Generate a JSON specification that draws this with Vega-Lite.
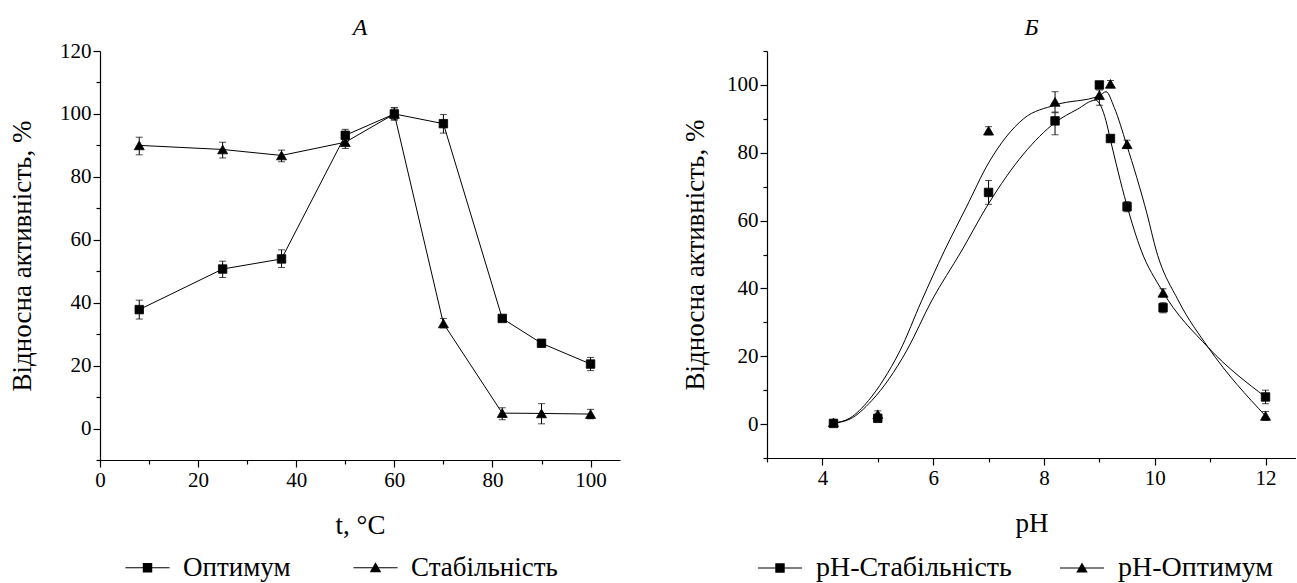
{
  "$schema": "https://vega.github.io/schema/vega-lite/v6.json",
  "background": "white",
  "padding": {"left": 8, "top": 16, "right": 0, "bottom": 0},
  "spacing": 61,
  "config": {
    "font": "Liberation Serif",
    "view": {"stroke": null},
    "axis": {
      "domainColor": "black", "tickColor": "black", "labelColor": "black", "titleColor": "black",
      "grid": false, "labelFont": "Liberation Serif", "titleFont": "Liberation Serif",
      "labelFontSize": 21, "titleFontSize": 27, "titleFontWeight": "normal",
      "domainWidth": 1.2, "tickWidth": 1.2, "labelOverlap": false, "labelFlush": false, "labelPadding": 2
    },
    "legend": {"labelFont": "Liberation Serif", "labelFontSize": 28, "labelColor": "black", "padding": 0, "labelLimit": 0, "symbolStrokeWidth": 0, "symbolFillColor": "black"},
    "title": {"font": "Liberation Serif", "fontSize": 24, "fontStyle": "italic", "fontWeight": "normal", "color": "black", "anchor": "middle"}
  },
  "datasets": {
    "A": [
      {"t": 8, "v": 37.8, "lo": 34.8, "hi": 40.8, "s": "Оптимум"},
      {"t": 25, "v": 50.7, "lo": 48.0, "hi": 53.2, "s": "Оптимум"},
      {"t": 37, "v": 53.9, "lo": 51.2, "hi": 56.8, "s": "Оптимум"},
      {"t": 50, "v": 93.2, "lo": 91.3, "hi": 95.1, "s": "Оптимум"},
      {"t": 60, "v": 100, "lo": 98.2, "hi": 101.9, "s": "Оптимум"},
      {"t": 70, "v": 96.9, "lo": 93.9, "hi": 99.8, "s": "Оптимум"},
      {"t": 82, "v": 35.0, "lo": 34.2, "hi": 35.8, "s": "Оптимум"},
      {"t": 90, "v": 27.1, "lo": 26.3, "hi": 27.9, "s": "Оптимум"},
      {"t": 100, "v": 20.5, "lo": 18.4, "hi": 22.6, "s": "Оптимум"},
      {"t": 8, "v": 90.0, "lo": 87.0, "hi": 92.6, "s": "Стабільність"},
      {"t": 25, "v": 88.7, "lo": 86.0, "hi": 91.0, "s": "Стабільність"},
      {"t": 37, "v": 86.8, "lo": 84.8, "hi": 88.5, "s": "Стабільність"},
      {"t": 50, "v": 91.0, "lo": 89.0, "hi": 93.0, "s": "Стабільність"},
      {"t": 60, "v": 100, "lo": 98.0, "hi": 102.0, "s": "Стабільність"},
      {"t": 70, "v": 33.4, "lo": 32.0, "hi": 35.0, "s": "Стабільність"},
      {"t": 82, "v": 4.9, "lo": 2.8, "hi": 6.6, "s": "Стабільність"},
      {"t": 90, "v": 4.8, "lo": 1.5, "hi": 7.9, "s": "Стабільність"},
      {"t": 100, "v": 4.6, "lo": 3.1, "hi": 6.1, "s": "Стабільність"}
    ],
    "B": [
      {"ph": 4.2, "v": 0.2, "lo": -0.4, "hi": 0.8, "s": "pH-Стабільність"},
      {"ph": 5.0, "v": 1.7, "lo": 0.7, "hi": 2.7, "s": "pH-Стабільність"},
      {"ph": 7.0, "v": 68.3, "lo": 64.8, "hi": 71.8, "s": "pH-Стабільність"},
      {"ph": 8.2, "v": 89.4, "lo": 85.3, "hi": 91.8, "s": "pH-Стабільність"},
      {"ph": 9.0, "v": 100, "lo": 99.0, "hi": 101.0, "s": "pH-Стабільність"},
      {"ph": 9.2, "v": 84.2, "lo": 83.4, "hi": 85.0, "s": "pH-Стабільність"},
      {"ph": 9.5, "v": 64.1, "lo": 62.6, "hi": 65.6, "s": "pH-Стабільність"},
      {"ph": 10.15, "v": 34.3, "lo": 32.8, "hi": 35.8, "s": "pH-Стабільність"},
      {"ph": 12.0, "v": 8.0, "lo": 6.0, "hi": 10.0, "s": "pH-Стабільність"},
      {"ph": 4.2, "v": 0.5, "lo": -0.1, "hi": 1.1, "s": "pH-Оптимум"},
      {"ph": 5.0, "v": 2.9, "lo": 1.9, "hi": 3.9, "s": "pH-Оптимум"},
      {"ph": 7.0, "v": 86.5, "lo": 85.3, "hi": 87.7, "s": "pH-Оптимум"},
      {"ph": 8.2, "v": 95.0, "lo": 92.0, "hi": 98.0, "s": "pH-Оптимум"},
      {"ph": 9.0, "v": 97.0, "lo": 94.0, "hi": 98.5, "s": "pH-Оптимум"},
      {"ph": 9.2, "v": 100.3, "lo": 99.3, "hi": 101.3, "s": "pH-Оптимум"},
      {"ph": 9.5, "v": 82.5, "lo": 81.3, "hi": 83.7, "s": "pH-Оптимум"},
      {"ph": 10.15, "v": 38.7, "lo": 37.5, "hi": 39.9, "s": "pH-Оптимум"},
      {"ph": 12.0, "v": 2.4, "lo": 1.1, "hi": 3.7, "s": "pH-Оптимум"}
    ],
    "Bcurve": [
      {"ph": 4.2, "v": 0.3, "s": "pH-Оптимум"},
      {"ph": 4.5, "v": 1.8, "s": "pH-Оптимум"},
      {"ph": 4.83, "v": 6.9, "s": "pH-Оптимум"},
      {"ph": 5.1, "v": 13.0, "s": "pH-Оптимум"},
      {"ph": 5.4, "v": 21.6, "s": "pH-Оптимум"},
      {"ph": 5.79, "v": 36.3, "s": "pH-Оптимум"},
      {"ph": 6.2, "v": 51.0, "s": "pH-Оптимум"},
      {"ph": 6.6, "v": 64.0, "s": "pH-Оптимум"},
      {"ph": 7.0, "v": 77.0, "s": "pH-Оптимум"},
      {"ph": 7.63, "v": 90.0, "s": "pH-Оптимум"},
      {"ph": 8.21, "v": 94.1, "s": "pH-Оптимум"},
      {"ph": 9.0, "v": 96.8, "s": "pH-Оптимум"},
      {"ph": 9.12, "v": 98.0, "s": "pH-Оптимум"},
      {"ph": 9.27, "v": 93.3, "s": "pH-Оптимум"},
      {"ph": 9.49, "v": 82.5, "s": "pH-Оптимум"},
      {"ph": 9.86, "v": 62.0, "s": "pH-Оптимум"},
      {"ph": 10.03, "v": 51.0, "s": "pH-Оптимум"},
      {"ph": 10.43, "v": 36.3, "s": "pH-Оптимум"},
      {"ph": 10.97, "v": 22.5, "s": "pH-Оптимум"},
      {"ph": 12.0, "v": 2.4, "s": "pH-Оптимум"},
      {"ph": 4.2, "v": 0.3, "s": "pH-Стабільність"},
      {"ph": 4.5, "v": 1.5, "s": "pH-Стабільність"},
      {"ph": 4.89, "v": 6.9, "s": "pH-Стабільність"},
      {"ph": 5.52, "v": 21.6, "s": "pH-Стабільність"},
      {"ph": 5.97, "v": 36.3, "s": "pH-Стабільність"},
      {"ph": 6.51, "v": 51.0, "s": "pH-Стабільність"},
      {"ph": 7.0, "v": 65.0, "s": "pH-Стабільність"},
      {"ph": 7.63, "v": 79.6, "s": "pH-Стабільність"},
      {"ph": 8.21, "v": 89.0, "s": "pH-Стабільність"},
      {"ph": 8.6, "v": 92.8, "s": "pH-Стабільність"},
      {"ph": 8.93, "v": 95.5, "s": "pH-Стабільність"},
      {"ph": 9.12, "v": 89.4, "s": "pH-Стабільність"},
      {"ph": 9.19, "v": 84.5, "s": "pH-Стабільність"},
      {"ph": 9.49, "v": 64.9, "s": "pH-Стабільність"},
      {"ph": 9.76, "v": 51.0, "s": "pH-Стабільність"},
      {"ph": 10.12, "v": 39.7, "s": "pH-Стабільність"},
      {"ph": 10.97, "v": 22.5, "s": "pH-Стабільність"},
      {"ph": 12.0, "v": 8.0, "s": "pH-Стабільність"}
    ]
  },
  "hconcat": [
    {
      "title": {"text": "А", "offset": 0, "fontSize": 24, "font": "Liberation Serif", "fontStyle": "italic", "fontWeight": "normal", "color": "black"},
      "width": 520,
      "height": 409,
      "data": {"name": "A"},
      "encoding": {
        "x": {
          "field": "t", "type": "quantitative",
          "scale": {"domain": [0, 106], "nice": false, "zero": false},
          "axis": {
            "title": "t, °C", "titlePadding": 22,
            "values": [0, 10, 20, 30, 40, 50, 60, 70, 80, 90, 100],
            "labelExpr": "datum.value % 20 === 0 ? datum.label : ''",
            "tickSize": {"condition": {"test": "datum.value % 20 === 0", "value": 7}, "value": 4}
          }
        },
        "y": {
          "field": "v", "type": "quantitative",
          "scale": {"domain": [-10, 120], "nice": false, "zero": false},
          "axis": {
            "title": "Відносна активність, %", "titlePadding": 23,
            "values": [-10, 0, 10, 20, 30, 40, 50, 60, 70, 80, 90, 100, 110, 120],
            "labelExpr": "datum.value % 20 === 0 ? datum.label : ''",
            "tickSize": {"condition": {"test": "datum.value % 20 === 0", "value": 7}, "value": 4}
          }
        }
      },
      "layer": [
        {
          "mark": {"type": "line", "color": "black", "strokeWidth": 1},
          "encoding": {"detail": {"field": "s"}}
        },
        {
          "mark": {"type": "errorbar", "color": "black", "thickness": 1, "ticks": {"size": 7, "color": "black"}},
          "encoding": {
            "y": {
              "field": "lo", "type": "quantitative",
              "scale": {"domain": [-10, 120], "nice": false, "zero": false},
              "axis": {
                "title": "Відносна активність, %", "titlePadding": 23,
                "values": [-10, 0, 10, 20, 30, 40, 50, 60, 70, 80, 90, 100, 110, 120],
                "labelExpr": "datum.value % 20 === 0 ? datum.label : ''",
                "tickSize": {"condition": {"test": "datum.value % 20 === 0", "value": 7}, "value": 4}
              }
            },
            "y2": {"field": "hi"}
          }
        },
        {
          "transform": [{"filter": "datum.s === 'Оптимум'"}],
          "mark": {"type": "point", "filled": true, "fill": "black", "stroke": "black", "strokeWidth": 0.8, "shape": "square", "size": 72},
          "encoding": {
            "opacity": {
              "field": "s", "type": "ordinal",
              "scale": {"domain": ["Оптимум", "Стабільність"], "range": [1, 1]},
              "legend": {
                "title": null, "orient": "none", "legendX": 34, "legendY": 503, "direction": "horizontal",
                "columnPadding": 62, "labelOffset": 22, "symbolSize": 441, "labelLimit": 0, "labelFontSize": 27,
                "symbolType": {"expr": "datum.value === 'Оптимум' ? 'M-2.1,-0.05H2.1V0.05H-2.1Z M-0.45,-0.45H0.45V0.45H-0.45Z' : 'M-2.1,-0.05H2.1V0.05H-2.1Z M0,-0.52L0.55,0.42H-0.55Z'"}
              }
            }
          }
        },
        {
          "transform": [{"filter": "datum.s === 'Стабільність'"}],
          "mark": {"type": "point", "filled": true, "fill": "black", "stroke": "black", "strokeWidth": 0.8, "shape": "triangle-up", "size": 100, "opacity": 1}
        }
      ]
    },
    {
      "title": {"text": "Б", "offset": 0, "fontSize": 24, "font": "Liberation Serif", "fontStyle": "italic", "fontWeight": "normal", "color": "black"},
      "width": 529,
      "height": 407,
      "encoding": {
        "x": {
          "field": "ph", "type": "quantitative",
          "scale": {"domain": [3, 12.55], "nice": false, "zero": false},
          "axis": {
            "title": "pH", "titlePadding": 22,
            "values": [3, 4, 5, 6, 7, 8, 9, 10, 11, 12],
            "labelExpr": "datum.value % 2 === 0 ? datum.label : ''",
            "tickSize": {"condition": {"test": "datum.value % 2 === 0", "value": 7}, "value": 4}
          }
        },
        "y": {
          "field": "v", "type": "quantitative",
          "scale": {"domain": [-10, 110], "nice": false, "zero": false},
          "axis": {
            "title": "Відносна активність, %", "titlePadding": 17,
            "values": [-10, 0, 10, 20, 30, 40, 50, 60, 70, 80, 90, 100, 110],
            "labelExpr": "datum.value % 20 === 0 ? datum.label : ''",
            "tickSize": {"condition": {"test": "datum.value % 20 === 0", "value": 7}, "value": 4}
          }
        }
      },
      "layer": [
        {
          "data": {"name": "Bcurve"},
          "mark": {"type": "line", "color": "black", "strokeWidth": 1, "interpolate": "monotone"},
          "encoding": {"detail": {"field": "s"}}
        },
        {
          "data": {"name": "B"},
          "mark": {"type": "errorbar", "color": "black", "thickness": 1, "ticks": {"size": 7, "color": "black"}},
          "encoding": {
            "y": {
              "field": "lo", "type": "quantitative",
              "scale": {"domain": [-10, 110], "nice": false, "zero": false},
              "axis": {
                "title": "Відносна активність, %", "titlePadding": 17,
                "values": [-10, 0, 10, 20, 30, 40, 50, 60, 70, 80, 90, 100, 110],
                "labelExpr": "datum.value % 20 === 0 ? datum.label : ''",
                "tickSize": {"condition": {"test": "datum.value % 20 === 0", "value": 7}, "value": 4}
              }
            },
            "y2": {"field": "hi"}
          }
        },
        {
          "data": {"name": "B"},
          "transform": [{"filter": "datum.s === 'pH-Стабільність'"}],
          "mark": {"type": "point", "filled": true, "fill": "black", "stroke": "black", "strokeWidth": 0.8, "shape": "square", "size": 72},
          "encoding": {
            "opacity": {
              "field": "s", "type": "ordinal",
              "scale": {"domain": ["pH-Стабільність", "pH-Оптимум"], "range": [1, 1]},
              "legend": {
                "title": null, "orient": "none", "legendX": -1, "legendY": 503, "direction": "horizontal",
                "columnPadding": 47, "labelOffset": 22, "symbolSize": 441, "labelLimit": 0, "labelFontSize": 28,
                "symbolType": {"expr": "datum.value === 'pH-Стабільність' ? 'M-2.1,-0.05H2.1V0.05H-2.1Z M-0.45,-0.45H0.45V0.45H-0.45Z' : 'M-2.1,-0.05H2.1V0.05H-2.1Z M0,-0.52L0.55,0.42H-0.55Z'"}
              }
            }
          }
        },
        {
          "data": {"name": "B"},
          "transform": [{"filter": "datum.s === 'pH-Оптимум'"}],
          "mark": {"type": "point", "filled": true, "fill": "black", "stroke": "black", "strokeWidth": 0.8, "shape": "triangle-up", "size": 100, "opacity": 1}
        }
      ]
    }
  ],
  "resolve": {"scale": {"opacity": "independent"}, "legend": {"opacity": "independent"}}
}
